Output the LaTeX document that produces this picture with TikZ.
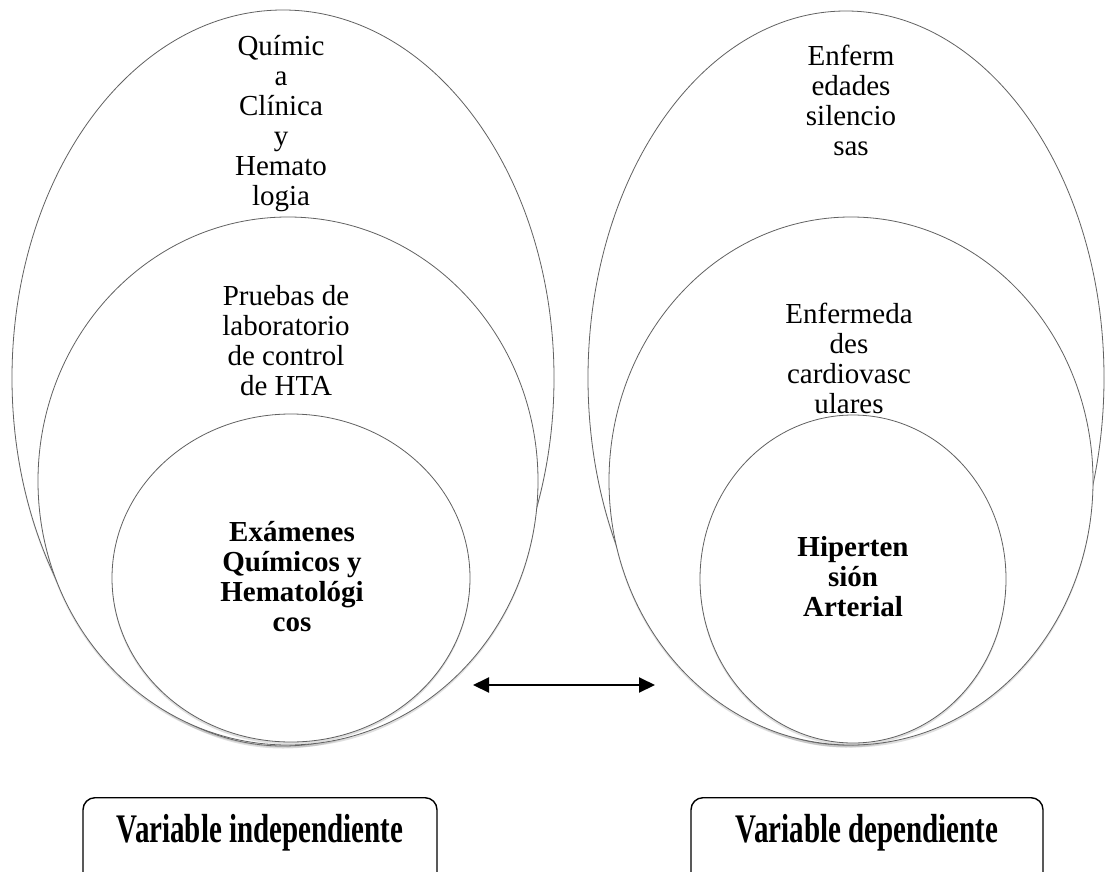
\documentclass[tikz,border=0pt]{standalone}
\usepackage{fontspec}
\setmainfont{Liberation Serif}
\usepackage{graphicx}
\usetikzlibrary{arrows.meta,shadows,shapes.geometric}
\begin{document}
\begin{tikzpicture}[x=1pt,y=-1pt,
  ell/.style={ellipse, draw=black!62, line width=0.8pt, fill=white, inner sep=0pt,
    drop shadow={shadow xshift=0pt, shadow yshift=-2.5pt, opacity=0.25}},
  txt/.style={align=center, inner sep=0pt, anchor=north, font={\fontsize{29}{30}\selectfont}},
  btxt/.style={txt, font={\fontsize{29}{30}\selectfont\bfseries}},
  varbox/.style={draw=black, line width=1.4pt, rounded corners=12pt, inner sep=0pt, anchor=north},
  vtxt/.style={anchor=base, inner sep=0pt, font={\fontsize{29}{30}\selectfont\bfseries}},
  dblarrow/.style={line width=2pt, {Triangle[length=16pt,width=15pt]}-{Triangle[length=16pt,width=15pt]}}
  ]
\useasboundingbox (0,0) rectangle (1113,872);
\clip (0,0) rectangle (1113,872);
\fill[white] (0,0) rectangle (1113,872);

% left group
\node[ell, minimum width=542, minimum height=736] (lo) at (283,378) {};
\node[txt] (tlo) at (281,35) {Químic\\a\\Clínica\\y\\Hemato\\logia};
\node[ell, minimum width=500, minimum height=528] (lm) at (288,481) {};
\node[txt] (tlm) at (286,285) {Pruebas de\\laboratorio\\de control\\de HTA};
\node[ell, minimum width=358, minimum height=328] (li) at (291,578) {};
\node[btxt] (tli) at (292,521) {Exámenes\\Químicos y\\Hematológi\\cos};

% right group
\node[ell, minimum width=516, minimum height=734] (ro) at (846,378) {};
\node[txt] (tro) at (851,45) {Enferm\\edades\\silencio\\sas};
\node[ell, minimum width=484, minimum height=528] (rm) at (851,481) {};
\node[txt] (trm) at (849,303) {Enfermeda\\des\\cardiovasc\\ulares};
\node[ell, minimum width=306, minimum height=328] (ri) at (853,579) {};
\node[btxt] (tri) at (853,536) {Hiperten\\sión\\Arterial};

% arrow
\coordinate (aL) at (473,685);
\coordinate (aR) at (655,685);
\draw[dblarrow] (aL) -- (aR);

% variable boxes
\node[varbox, minimum width=354, minimum height=120] (vi) at (260,797) {};
\node[vtxt] (tvi) at (260,842) {\scalebox{1}[1.4]{Variable independiente}};
\node[varbox, minimum width=352, minimum height=120] (vd) at (867,797) {};
\node[vtxt] (tvd) at (867,842) {\scalebox{1}[1.4]{Variable dependiente}};
\end{tikzpicture}
\end{document}
